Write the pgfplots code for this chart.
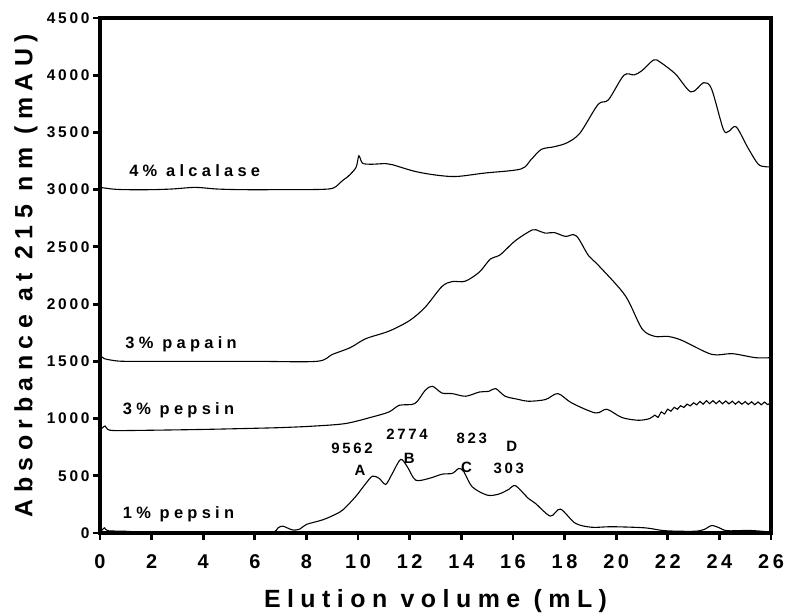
\documentclass[border=0pt]{standalone}
\usepackage{fontspec}
\setmainfont{Liberation Sans}
\newfontfamily\spfont{Liberation Sans}[LetterSpace=18]
\newfontfamily\lbfont{Liberation Sans}[LetterSpace=26]
\usepackage{pgfplots}
\pgfplotsset{compat=1.18}

\begin{document}
\begin{tikzpicture}[xlab/.style={font=\spfont\bfseries\fontsize{20}{21}\selectfont, anchor=center, yshift=-28.5bp}]
\useasboundingbox (0,0) rectangle (785bp,615bp);
\begin{axis}[
    at={(100bp,82bp)}, anchor=south west,
    scale only axis,
    width=671bp, height=515bp,
    xmin=0, xmax=26, ymin=0, ymax=4500,
    xtick={0,2,...,26},
    xticklabels={},
    ytick={0,500,...,4500},
    xtick pos=bottom, ytick pos=left,
    tick align=outside,
    major tick length=7bp,
    xtick style={line width=2.8bp, black},
    ytick style={line width=2.8bp, black},
    xlabel={Elution volume (mL)},
    ylabel={Absorbance at 215 nm (mAU)},
    label style={font=\lbfont\bfseries\fontsize{25}{26}\selectfont},
    xlabel style={at={(axis description cs:0.5,0)}, anchor=center, yshift=-68bp},
    ylabel style={at={(axis description cs:0,0.5)}, anchor=center, yshift=74bp},
    ticklabel style={font=\spfont\bfseries\fontsize{15.5}{16}\selectfont},
    curve/.style={black, line width=1.1bp, smooth, tension=0.5},
    clip=false,
    /pgf/number format/assume math mode=true,
    /pgf/number format/1000 sep={},
]
% 4% alcalase
\addplot[curve] coordinates {
(0,3020) (0.5,3005) (1,3000) (2,3000) (2.8,3006) (3.7,3020) (4.5,3006) (5.5,3000)
(7,3000) (8.5,3002) (9.05,3015) (9.4,3080) (9.6,3113) (9.92,3194) (10.03,3296)
(10.17,3232) (10.5,3222) (11.07,3228) (11.33,3218) (12.2,3160) (13.0,3128)
(13.8,3115) (14.9,3145) (16.3,3180) (16.7,3262) (17.1,3352) (17.6,3375) (18.1,3410)
(18.6,3495) (19.3,3745) (19.7,3785) (20.3,4000) (20.7,4003) (21.0,4040) (21.45,4133)
(21.7,4115) (22.3,4010) (22.9,3854) (23.4,3935) (23.7,3878) (24.15,3529) (24.35,3508)
(24.65,3549) (25.1,3368) (25.5,3224) (25.8,3200) (26,3200)
};
% 3% papain
\addplot[curve] coordinates {
(0,1555) (0.15,1525) (0.5,1508) (1,1500) (3,1500) (6,1500) (8.4,1500) (9.0,1560)
(9.7,1620) (10.3,1698) (11.2,1764) (12.0,1857) (12.6,1973) (13.25,2154) (13.65,2197)
(14.15,2200) (14.7,2280) (15.13,2395) (15.5,2430) (16.1,2555) (16.75,2648) (17.0,2640)
(17.26,2620) (17.6,2625) (18.03,2592) (18.35,2607) (18.55,2570) (18.93,2424)
(19.32,2337) (20.35,2075) (21.0,1785) (21.5,1718) (22.0,1718) (22.55,1683)
(23.7,1561) (24.5,1567) (25.4,1532) (26,1532)
};
% 3% pepsin
\addplot[curve] coordinates {
(0,905) (0.1,920) (0.2,935) (0.3,905) (0.6,895) (2,898) (4,905) (6,915) (7,921)
(8.2,933) (9.5,956) (10.55,1014) (11.2,1058) (11.6,1116) (12.2,1131) (12.6,1247)
(12.88,1282) (13.25,1223) (13.65,1218) (14.17,1195) (14.7,1232) (15.07,1238)
(15.33,1262) (15.7,1195) (16.2,1168) (16.6,1151) (17.26,1166) (17.74,1218)
(18.28,1136) (19.2,1049) (19.64,1081) (20.22,1009) (20.86,985) (21.3,1000)
(21.5,1030) (21.62,1010) (21.75,1058) (21.87,1040) (22.0,1082) (22.12,1064)
(22.25,1098) (22.37,1082) (22.5,1112) (22.62,1097) (22.75,1126) (22.87,1110)
(23.0,1138) (23.12,1120) (23.25,1150) (23.37,1126) (23.5,1156) (23.62,1130)
(23.75,1156) (23.87,1130) (24.0,1155) (24.12,1129) (24.25,1154) (24.37,1128)
(24.5,1152) (24.62,1126) (24.75,1150) (24.87,1125) (25.0,1148) (25.12,1123)
(25.25,1147) (25.37,1121) (25.5,1145) (25.62,1120) (25.75,1144) (25.87,1122) (26,1140)
};
% 1% pepsin
\addplot[curve] coordinates {
(0,5) (0.1,30) (0.18,45) (0.3,20) (1,15) (2,3) (4,0) (6,0) (6.7,2) (6.9,45)
(7.08,60) (7.3,40) (7.5,25) (7.75,35) (8.0,75) (8.6,113) (9.0,150) (9.4,200)
(9.9,317) (10.3,433) (10.56,497) (10.82,477) (11.07,425) (11.33,521) (11.65,643)
(11.91,578) (12.23,462) (12.75,477) (13.26,514) (13.65,521) (13.91,564) (14.1,535)
(14.42,404) (15.0,331) (15.45,340) (15.84,381) (16.1,413) (16.6,302) (16.87,259)
(17.45,148) (17.84,209) (18.42,85) (19.06,50) (19.83,55) (21.12,45) (21.89,20)
(23.0,15) (23.4,30) (23.7,65) (24.0,45) (24.3,20) (25.2,22) (26,8)
};
\draw[line width=3.5bp, black] (rel axis cs:0,0) rectangle (rel axis cs:1,1);
% x tick labels
\pgfplotsinvokeforeach{0,2,...,26}{\node[xlab] at (axis cs:#1,0) {#1};}
\begin{scope}[font=\lbfont\bfseries\fontsize{16.5}{17}\selectfont]
\node[anchor=west] at (axis cs:1.0,3165) {4\% alcalase};
\node[anchor=west] at (axis cs:0.85,1648) {3\% papain};
\node[anchor=west] at (axis cs:0.75,1073) {3\% pepsin};
\node[anchor=west] at (axis cs:0.75,166) {1\% pepsin};
\end{scope}
\begin{scope}[font=\spfont\bfseries\fontsize{15}{16}\selectfont]
\node at (axis cs:9.77,741) {9562};
\node at (axis cs:10.08,549) {A};
\node at (axis cs:11.9,863) {2774};
\node at (axis cs:11.98,654) {B};
\node at (axis cs:14.41,828) {823};
\node at (axis cs:14.2,575) {C};
\node at (axis cs:15.96,759) {D};
\node at (axis cs:15.84,567) {303};
\end{scope}
\end{axis}
\end{tikzpicture}
\end{document}
